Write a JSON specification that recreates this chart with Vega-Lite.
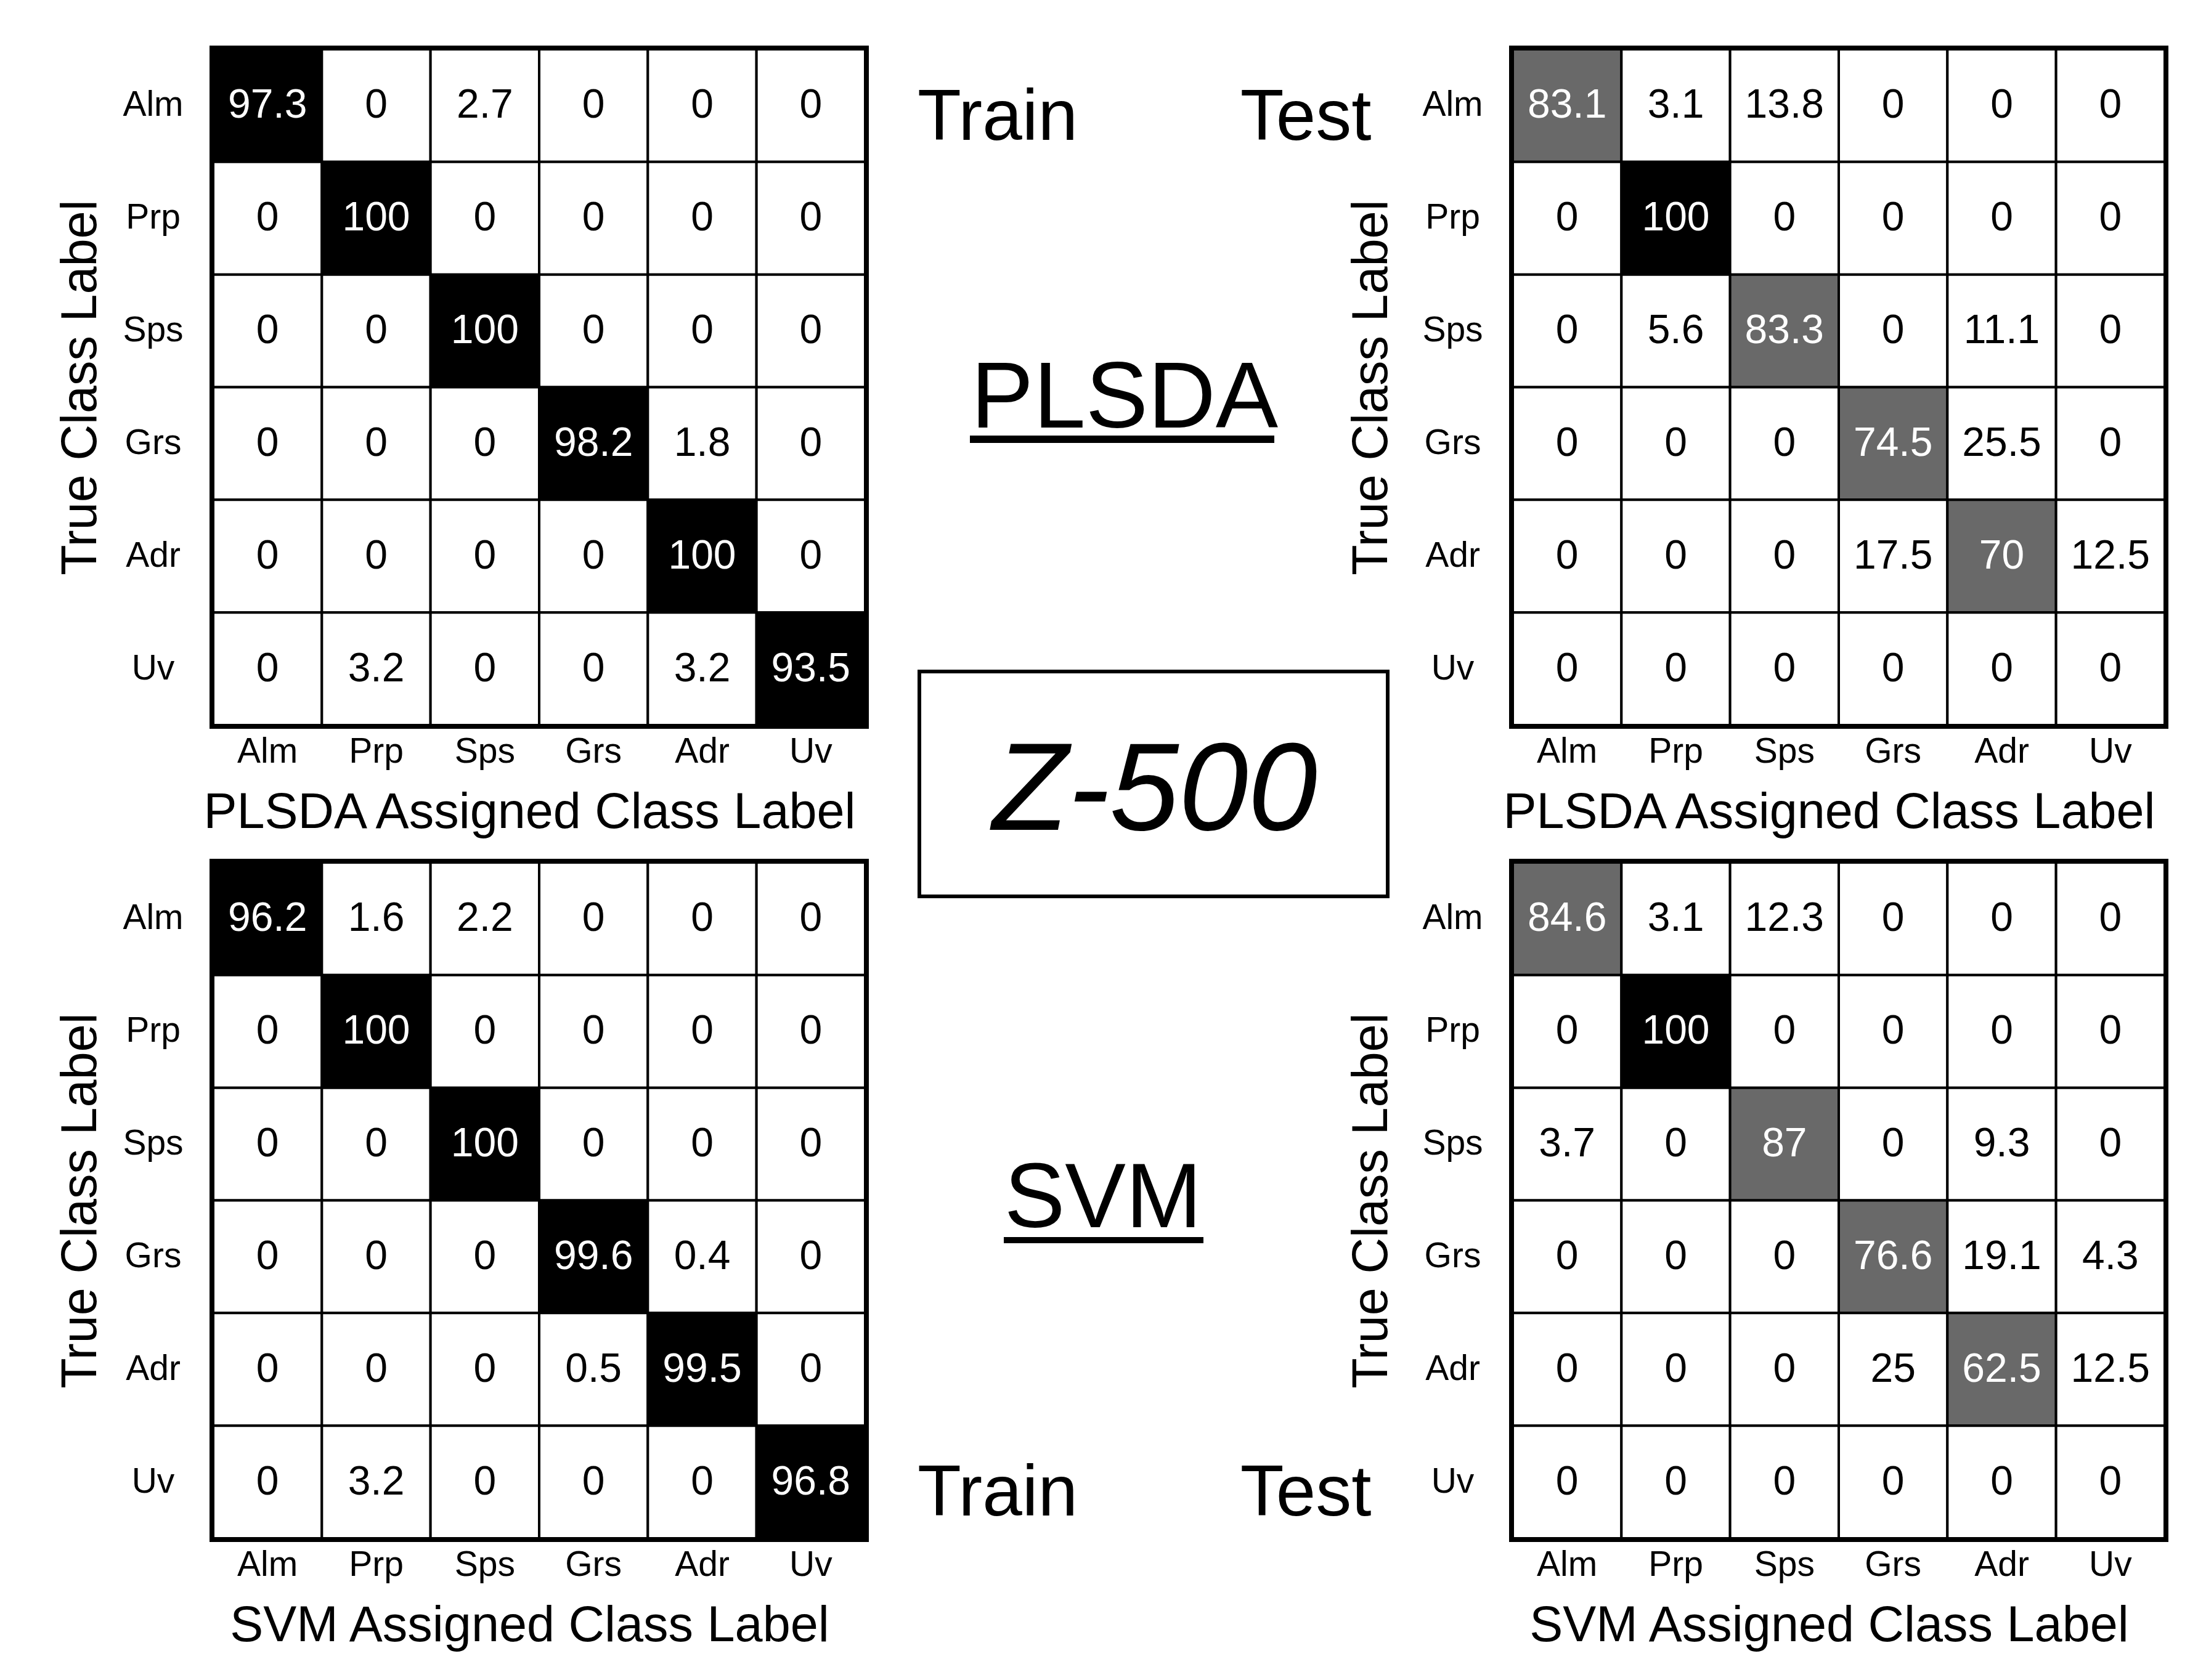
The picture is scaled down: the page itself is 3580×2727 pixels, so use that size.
{
  "$schema": "https://vega.github.io/schema/vega-lite/v6.json",
  "background": "white",
  "padding": {"left": 84, "top": 72, "right": 60, "bottom": 30},
  "config": {
    "font": "Liberation Sans",
    "axis": {"domain": false, "ticks": false, "grid": false, "labelFontSize": 57, "labelColor": "black", "titleFontSize": 81, "titleFontWeight": "normal", "titleColor": "black", "labelAngle": 0, "labelFont": "Liberation Sans", "titleFont": "Liberation Sans"},
    "axisX": {"labelPadding": 15, "titlePadding": 31, "titleX": 513},
    "axisY": {"labelAlign": "center", "labelBaseline": "middle", "labelPadding": 98, "titlePadding": 26}
  },
  "datasets": {
    "cm": [
      {"panel": "PLSDA Train", "true": "Alm", "assigned": "Alm", "value": 97.3},
      {"panel": "PLSDA Train", "true": "Alm", "assigned": "Prp", "value": 0},
      {"panel": "PLSDA Train", "true": "Alm", "assigned": "Sps", "value": 2.7},
      {"panel": "PLSDA Train", "true": "Alm", "assigned": "Grs", "value": 0},
      {"panel": "PLSDA Train", "true": "Alm", "assigned": "Adr", "value": 0},
      {"panel": "PLSDA Train", "true": "Alm", "assigned": "Uv", "value": 0},
      {"panel": "PLSDA Train", "true": "Prp", "assigned": "Alm", "value": 0},
      {"panel": "PLSDA Train", "true": "Prp", "assigned": "Prp", "value": 100},
      {"panel": "PLSDA Train", "true": "Prp", "assigned": "Sps", "value": 0},
      {"panel": "PLSDA Train", "true": "Prp", "assigned": "Grs", "value": 0},
      {"panel": "PLSDA Train", "true": "Prp", "assigned": "Adr", "value": 0},
      {"panel": "PLSDA Train", "true": "Prp", "assigned": "Uv", "value": 0},
      {"panel": "PLSDA Train", "true": "Sps", "assigned": "Alm", "value": 0},
      {"panel": "PLSDA Train", "true": "Sps", "assigned": "Prp", "value": 0},
      {"panel": "PLSDA Train", "true": "Sps", "assigned": "Sps", "value": 100},
      {"panel": "PLSDA Train", "true": "Sps", "assigned": "Grs", "value": 0},
      {"panel": "PLSDA Train", "true": "Sps", "assigned": "Adr", "value": 0},
      {"panel": "PLSDA Train", "true": "Sps", "assigned": "Uv", "value": 0},
      {"panel": "PLSDA Train", "true": "Grs", "assigned": "Alm", "value": 0},
      {"panel": "PLSDA Train", "true": "Grs", "assigned": "Prp", "value": 0},
      {"panel": "PLSDA Train", "true": "Grs", "assigned": "Sps", "value": 0},
      {"panel": "PLSDA Train", "true": "Grs", "assigned": "Grs", "value": 98.2},
      {"panel": "PLSDA Train", "true": "Grs", "assigned": "Adr", "value": 1.8},
      {"panel": "PLSDA Train", "true": "Grs", "assigned": "Uv", "value": 0},
      {"panel": "PLSDA Train", "true": "Adr", "assigned": "Alm", "value": 0},
      {"panel": "PLSDA Train", "true": "Adr", "assigned": "Prp", "value": 0},
      {"panel": "PLSDA Train", "true": "Adr", "assigned": "Sps", "value": 0},
      {"panel": "PLSDA Train", "true": "Adr", "assigned": "Grs", "value": 0},
      {"panel": "PLSDA Train", "true": "Adr", "assigned": "Adr", "value": 100},
      {"panel": "PLSDA Train", "true": "Adr", "assigned": "Uv", "value": 0},
      {"panel": "PLSDA Train", "true": "Uv", "assigned": "Alm", "value": 0},
      {"panel": "PLSDA Train", "true": "Uv", "assigned": "Prp", "value": 3.2},
      {"panel": "PLSDA Train", "true": "Uv", "assigned": "Sps", "value": 0},
      {"panel": "PLSDA Train", "true": "Uv", "assigned": "Grs", "value": 0},
      {"panel": "PLSDA Train", "true": "Uv", "assigned": "Adr", "value": 3.2},
      {"panel": "PLSDA Train", "true": "Uv", "assigned": "Uv", "value": 93.5},

      {"panel": "PLSDA Test", "true": "Alm", "assigned": "Alm", "value": 83.1},
      {"panel": "PLSDA Test", "true": "Alm", "assigned": "Prp", "value": 3.1},
      {"panel": "PLSDA Test", "true": "Alm", "assigned": "Sps", "value": 13.8},
      {"panel": "PLSDA Test", "true": "Alm", "assigned": "Grs", "value": 0},
      {"panel": "PLSDA Test", "true": "Alm", "assigned": "Adr", "value": 0},
      {"panel": "PLSDA Test", "true": "Alm", "assigned": "Uv", "value": 0},
      {"panel": "PLSDA Test", "true": "Prp", "assigned": "Alm", "value": 0},
      {"panel": "PLSDA Test", "true": "Prp", "assigned": "Prp", "value": 100},
      {"panel": "PLSDA Test", "true": "Prp", "assigned": "Sps", "value": 0},
      {"panel": "PLSDA Test", "true": "Prp", "assigned": "Grs", "value": 0},
      {"panel": "PLSDA Test", "true": "Prp", "assigned": "Adr", "value": 0},
      {"panel": "PLSDA Test", "true": "Prp", "assigned": "Uv", "value": 0},
      {"panel": "PLSDA Test", "true": "Sps", "assigned": "Alm", "value": 0},
      {"panel": "PLSDA Test", "true": "Sps", "assigned": "Prp", "value": 5.6},
      {"panel": "PLSDA Test", "true": "Sps", "assigned": "Sps", "value": 83.3},
      {"panel": "PLSDA Test", "true": "Sps", "assigned": "Grs", "value": 0},
      {"panel": "PLSDA Test", "true": "Sps", "assigned": "Adr", "value": 11.1},
      {"panel": "PLSDA Test", "true": "Sps", "assigned": "Uv", "value": 0},
      {"panel": "PLSDA Test", "true": "Grs", "assigned": "Alm", "value": 0},
      {"panel": "PLSDA Test", "true": "Grs", "assigned": "Prp", "value": 0},
      {"panel": "PLSDA Test", "true": "Grs", "assigned": "Sps", "value": 0},
      {"panel": "PLSDA Test", "true": "Grs", "assigned": "Grs", "value": 74.5},
      {"panel": "PLSDA Test", "true": "Grs", "assigned": "Adr", "value": 25.5},
      {"panel": "PLSDA Test", "true": "Grs", "assigned": "Uv", "value": 0},
      {"panel": "PLSDA Test", "true": "Adr", "assigned": "Alm", "value": 0},
      {"panel": "PLSDA Test", "true": "Adr", "assigned": "Prp", "value": 0},
      {"panel": "PLSDA Test", "true": "Adr", "assigned": "Sps", "value": 0},
      {"panel": "PLSDA Test", "true": "Adr", "assigned": "Grs", "value": 17.5},
      {"panel": "PLSDA Test", "true": "Adr", "assigned": "Adr", "value": 70},
      {"panel": "PLSDA Test", "true": "Adr", "assigned": "Uv", "value": 12.5},
      {"panel": "PLSDA Test", "true": "Uv", "assigned": "Alm", "value": 0},
      {"panel": "PLSDA Test", "true": "Uv", "assigned": "Prp", "value": 0},
      {"panel": "PLSDA Test", "true": "Uv", "assigned": "Sps", "value": 0},
      {"panel": "PLSDA Test", "true": "Uv", "assigned": "Grs", "value": 0},
      {"panel": "PLSDA Test", "true": "Uv", "assigned": "Adr", "value": 0},
      {"panel": "PLSDA Test", "true": "Uv", "assigned": "Uv", "value": 0},

      {"panel": "SVM Train", "true": "Alm", "assigned": "Alm", "value": 96.2},
      {"panel": "SVM Train", "true": "Alm", "assigned": "Prp", "value": 1.6},
      {"panel": "SVM Train", "true": "Alm", "assigned": "Sps", "value": 2.2},
      {"panel": "SVM Train", "true": "Alm", "assigned": "Grs", "value": 0},
      {"panel": "SVM Train", "true": "Alm", "assigned": "Adr", "value": 0},
      {"panel": "SVM Train", "true": "Alm", "assigned": "Uv", "value": 0},
      {"panel": "SVM Train", "true": "Prp", "assigned": "Alm", "value": 0},
      {"panel": "SVM Train", "true": "Prp", "assigned": "Prp", "value": 100},
      {"panel": "SVM Train", "true": "Prp", "assigned": "Sps", "value": 0},
      {"panel": "SVM Train", "true": "Prp", "assigned": "Grs", "value": 0},
      {"panel": "SVM Train", "true": "Prp", "assigned": "Adr", "value": 0},
      {"panel": "SVM Train", "true": "Prp", "assigned": "Uv", "value": 0},
      {"panel": "SVM Train", "true": "Sps", "assigned": "Alm", "value": 0},
      {"panel": "SVM Train", "true": "Sps", "assigned": "Prp", "value": 0},
      {"panel": "SVM Train", "true": "Sps", "assigned": "Sps", "value": 100},
      {"panel": "SVM Train", "true": "Sps", "assigned": "Grs", "value": 0},
      {"panel": "SVM Train", "true": "Sps", "assigned": "Adr", "value": 0},
      {"panel": "SVM Train", "true": "Sps", "assigned": "Uv", "value": 0},
      {"panel": "SVM Train", "true": "Grs", "assigned": "Alm", "value": 0},
      {"panel": "SVM Train", "true": "Grs", "assigned": "Prp", "value": 0},
      {"panel": "SVM Train", "true": "Grs", "assigned": "Sps", "value": 0},
      {"panel": "SVM Train", "true": "Grs", "assigned": "Grs", "value": 99.6},
      {"panel": "SVM Train", "true": "Grs", "assigned": "Adr", "value": 0.4},
      {"panel": "SVM Train", "true": "Grs", "assigned": "Uv", "value": 0},
      {"panel": "SVM Train", "true": "Adr", "assigned": "Alm", "value": 0},
      {"panel": "SVM Train", "true": "Adr", "assigned": "Prp", "value": 0},
      {"panel": "SVM Train", "true": "Adr", "assigned": "Sps", "value": 0},
      {"panel": "SVM Train", "true": "Adr", "assigned": "Grs", "value": 0.5},
      {"panel": "SVM Train", "true": "Adr", "assigned": "Adr", "value": 99.5},
      {"panel": "SVM Train", "true": "Adr", "assigned": "Uv", "value": 0},
      {"panel": "SVM Train", "true": "Uv", "assigned": "Alm", "value": 0},
      {"panel": "SVM Train", "true": "Uv", "assigned": "Prp", "value": 3.2},
      {"panel": "SVM Train", "true": "Uv", "assigned": "Sps", "value": 0},
      {"panel": "SVM Train", "true": "Uv", "assigned": "Grs", "value": 0},
      {"panel": "SVM Train", "true": "Uv", "assigned": "Adr", "value": 0},
      {"panel": "SVM Train", "true": "Uv", "assigned": "Uv", "value": 96.8},

      {"panel": "SVM Test", "true": "Alm", "assigned": "Alm", "value": 84.6},
      {"panel": "SVM Test", "true": "Alm", "assigned": "Prp", "value": 3.1},
      {"panel": "SVM Test", "true": "Alm", "assigned": "Sps", "value": 12.3},
      {"panel": "SVM Test", "true": "Alm", "assigned": "Grs", "value": 0},
      {"panel": "SVM Test", "true": "Alm", "assigned": "Adr", "value": 0},
      {"panel": "SVM Test", "true": "Alm", "assigned": "Uv", "value": 0},
      {"panel": "SVM Test", "true": "Prp", "assigned": "Alm", "value": 0},
      {"panel": "SVM Test", "true": "Prp", "assigned": "Prp", "value": 100},
      {"panel": "SVM Test", "true": "Prp", "assigned": "Sps", "value": 0},
      {"panel": "SVM Test", "true": "Prp", "assigned": "Grs", "value": 0},
      {"panel": "SVM Test", "true": "Prp", "assigned": "Adr", "value": 0},
      {"panel": "SVM Test", "true": "Prp", "assigned": "Uv", "value": 0},
      {"panel": "SVM Test", "true": "Sps", "assigned": "Alm", "value": 3.7},
      {"panel": "SVM Test", "true": "Sps", "assigned": "Prp", "value": 0},
      {"panel": "SVM Test", "true": "Sps", "assigned": "Sps", "value": 87},
      {"panel": "SVM Test", "true": "Sps", "assigned": "Grs", "value": 0},
      {"panel": "SVM Test", "true": "Sps", "assigned": "Adr", "value": 9.3},
      {"panel": "SVM Test", "true": "Sps", "assigned": "Uv", "value": 0},
      {"panel": "SVM Test", "true": "Grs", "assigned": "Alm", "value": 0},
      {"panel": "SVM Test", "true": "Grs", "assigned": "Prp", "value": 0},
      {"panel": "SVM Test", "true": "Grs", "assigned": "Sps", "value": 0},
      {"panel": "SVM Test", "true": "Grs", "assigned": "Grs", "value": 76.6},
      {"panel": "SVM Test", "true": "Grs", "assigned": "Adr", "value": 19.1},
      {"panel": "SVM Test", "true": "Grs", "assigned": "Uv", "value": 4.3},
      {"panel": "SVM Test", "true": "Adr", "assigned": "Alm", "value": 0},
      {"panel": "SVM Test", "true": "Adr", "assigned": "Prp", "value": 0},
      {"panel": "SVM Test", "true": "Adr", "assigned": "Sps", "value": 0},
      {"panel": "SVM Test", "true": "Adr", "assigned": "Grs", "value": 25},
      {"panel": "SVM Test", "true": "Adr", "assigned": "Adr", "value": 62.5},
      {"panel": "SVM Test", "true": "Adr", "assigned": "Uv", "value": 12.5},
      {"panel": "SVM Test", "true": "Uv", "assigned": "Alm", "value": 0},
      {"panel": "SVM Test", "true": "Uv", "assigned": "Prp", "value": 0},
      {"panel": "SVM Test", "true": "Uv", "assigned": "Sps", "value": 0},
      {"panel": "SVM Test", "true": "Uv", "assigned": "Grs", "value": 0},
      {"panel": "SVM Test", "true": "Uv", "assigned": "Adr", "value": 0},
      {"panel": "SVM Test", "true": "Uv", "assigned": "Uv", "value": 0}
    ]
  },
  "columns": 3,
  "align": "each",
  "bounds": "flush",
  "spacing": {"row": 223, "column": 0},
  "concat": [
    {
      "width": 1058, "height": 1097,
      "view": {"stroke": "black", "strokeWidth": 12},
      "data": {"name": "cm"},
      "transform": [{"filter": "datum.panel === 'PLSDA Train'"}],
      "encoding": {
        "x": {"field": "assigned", "type": "nominal", "sort": ["Alm", "Prp", "Sps", "Grs", "Adr", "Uv"], "scale": {"paddingInner": 0, "paddingOuter": 0}, "axis": {"title": "PLSDA Assigned Class Label"}},
        "y": {"field": "true", "type": "nominal", "sort": ["Alm", "Prp", "Sps", "Grs", "Adr", "Uv"], "scale": {"paddingInner": 0, "paddingOuter": 0}, "axis": {"title": "True Class Label"}}
      },
      "layer": [
        {"mark": {"type": "rect", "stroke": "black", "strokeWidth": 4}, "encoding": {"fill": {"field": "value", "type": "quantitative", "scale": {"type": "threshold", "domain": [50, 90], "range": ["white", "#696969", "black"]}, "legend": null}}},
        {"mark": {"type": "text", "fontSize": 66, "font": "Liberation Sans"}, "encoding": {"text": {"field": "value", "type": "nominal"}, "color": {"condition": {"test": "datum.value >= 50", "value": "white"}, "value": "black"}}}
      ]
    },
    {
      "width": 1051, "height": 1097,
      "view": {"stroke": null},
      "layer": [
        {"data": {"values": [{"label": "Train"}]}, "mark": {"type": "text", "fontSize": 116, "font": "Liberation Sans", "color": "black"}, "encoding": {"x": {"datum": 215, "type": "quantitative", "scale": {"domain": [0, 1051], "nice": false, "zero": false}, "axis": null}, "y": {"datum": 112, "type": "quantitative", "scale": {"domain": [0, 1097], "nice": false, "zero": false, "reverse": true}, "axis": null}, "text": {"field": "label"}}},
        {"data": {"values": [{"label": "Test"}]}, "mark": {"type": "text", "fontSize": 116, "font": "Liberation Sans", "color": "black"}, "encoding": {"x": {"datum": 715, "type": "quantitative"}, "y": {"datum": 112, "type": "quantitative"}, "text": {"field": "label"}}},
        {"data": {"values": [{"label": "PLSDA"}]}, "mark": {"type": "text", "fontSize": 152, "font": "Liberation Sans", "color": "black"}, "encoding": {"x": {"datum": 421, "type": "quantitative"}, "y": {"datum": 568, "type": "quantitative"}, "text": {"field": "label"}}},
        {"data": {"values": [{"label": "PLSDA"}]}, "mark": {"type": "rule", "strokeWidth": 12, "color": "black"}, "encoding": {"x": {"datum": 170, "type": "quantitative"}, "x2": {"datum": 664}, "y": {"datum": 633, "type": "quantitative"}}},
        {"data": {"values": [{"label": "Z-500"}]}, "mark": {"type": "rect", "filled": false, "stroke": "black", "strokeWidth": 6}, "encoding": {"x": {"datum": 88, "type": "quantitative"}, "x2": {"datum": 848}, "y": {"datum": 1010, "type": "quantitative"}, "y2": {"datum": 1375}}},
        {"data": {"values": [{"label": "Z-500"}]}, "mark": {"type": "text", "fontSize": 202, "fontStyle": "italic", "font": "Liberation Sans", "color": "black"}, "encoding": {"x": {"datum": 470, "type": "quantitative"}, "y": {"datum": 1206, "type": "quantitative"}, "text": {"field": "label"}}}
      ]
    },
    {
      "width": 1058, "height": 1097,
      "view": {"stroke": "black", "strokeWidth": 12},
      "data": {"name": "cm"},
      "transform": [{"filter": "datum.panel === 'PLSDA Test'"}],
      "encoding": {
        "x": {"field": "assigned", "type": "nominal", "sort": ["Alm", "Prp", "Sps", "Grs", "Adr", "Uv"], "scale": {"paddingInner": 0, "paddingOuter": 0}, "axis": {"title": "PLSDA Assigned Class Label"}},
        "y": {"field": "true", "type": "nominal", "sort": ["Alm", "Prp", "Sps", "Grs", "Adr", "Uv"], "scale": {"paddingInner": 0, "paddingOuter": 0}, "axis": {"title": "True Class Label", "titlePadding": 40}}
      },
      "layer": [
        {"mark": {"type": "rect", "stroke": "black", "strokeWidth": 4}, "encoding": {"fill": {"field": "value", "type": "quantitative", "scale": {"type": "threshold", "domain": [50, 90], "range": ["white", "#696969", "black"]}, "legend": null}}},
        {"mark": {"type": "text", "fontSize": 66, "font": "Liberation Sans"}, "encoding": {"text": {"field": "value", "type": "nominal"}, "color": {"condition": {"test": "datum.value >= 50", "value": "white"}, "value": "black"}}}
      ]
    },
    {
      "width": 1058, "height": 1097,
      "view": {"stroke": "black", "strokeWidth": 12},
      "data": {"name": "cm"},
      "transform": [{"filter": "datum.panel === 'SVM Train'"}],
      "encoding": {
        "x": {"field": "assigned", "type": "nominal", "sort": ["Alm", "Prp", "Sps", "Grs", "Adr", "Uv"], "scale": {"paddingInner": 0, "paddingOuter": 0}, "axis": {"title": "SVM Assigned Class Label"}},
        "y": {"field": "true", "type": "nominal", "sort": ["Alm", "Prp", "Sps", "Grs", "Adr", "Uv"], "scale": {"paddingInner": 0, "paddingOuter": 0}, "axis": {"title": "True Class Label"}}
      },
      "layer": [
        {"mark": {"type": "rect", "stroke": "black", "strokeWidth": 4}, "encoding": {"fill": {"field": "value", "type": "quantitative", "scale": {"type": "threshold", "domain": [50, 90], "range": ["white", "#696969", "black"]}, "legend": null}}},
        {"mark": {"type": "text", "fontSize": 66, "font": "Liberation Sans"}, "encoding": {"text": {"field": "value", "type": "nominal"}, "color": {"condition": {"test": "datum.value >= 50", "value": "white"}, "value": "black"}}}
      ]
    },
    {
      "width": 1051, "height": 1097,
      "view": {"stroke": null},
      "layer": [
        {"data": {"values": [{"label": "SVM"}]}, "mark": {"type": "text", "fontSize": 148, "font": "Liberation Sans", "color": "black"}, "encoding": {"x": {"datum": 386, "type": "quantitative", "scale": {"domain": [0, 1051], "nice": false, "zero": false}, "axis": null}, "y": {"datum": 548, "type": "quantitative", "scale": {"domain": [0, 1097], "nice": false, "zero": false, "reverse": true}, "axis": null}, "text": {"field": "label"}}},
        {"data": {"values": [{"label": "SVM"}]}, "mark": {"type": "rule", "strokeWidth": 10, "color": "black"}, "encoding": {"x": {"datum": 225, "type": "quantitative"}, "x2": {"datum": 549}, "y": {"datum": 613, "type": "quantitative"}}},
        {"data": {"values": [{"label": "Train"}]}, "mark": {"type": "text", "fontSize": 116, "font": "Liberation Sans", "color": "black"}, "encoding": {"x": {"datum": 215, "type": "quantitative"}, "y": {"datum": 1025, "type": "quantitative"}, "text": {"field": "label"}}},
        {"data": {"values": [{"label": "Test"}]}, "mark": {"type": "text", "fontSize": 116, "font": "Liberation Sans", "color": "black"}, "encoding": {"x": {"datum": 715, "type": "quantitative"}, "y": {"datum": 1025, "type": "quantitative"}, "text": {"field": "label"}}}
      ]
    },
    {
      "width": 1058, "height": 1097,
      "view": {"stroke": "black", "strokeWidth": 12},
      "data": {"name": "cm"},
      "transform": [{"filter": "datum.panel === 'SVM Test'"}],
      "encoding": {
        "x": {"field": "assigned", "type": "nominal", "sort": ["Alm", "Prp", "Sps", "Grs", "Adr", "Uv"], "scale": {"paddingInner": 0, "paddingOuter": 0}, "axis": {"title": "SVM Assigned Class Label"}},
        "y": {"field": "true", "type": "nominal", "sort": ["Alm", "Prp", "Sps", "Grs", "Adr", "Uv"], "scale": {"paddingInner": 0, "paddingOuter": 0}, "axis": {"title": "True Class Label", "titlePadding": 40}}
      },
      "layer": [
        {"mark": {"type": "rect", "stroke": "black", "strokeWidth": 4}, "encoding": {"fill": {"field": "value", "type": "quantitative", "scale": {"type": "threshold", "domain": [50, 90], "range": ["white", "#696969", "black"]}, "legend": null}}},
        {"mark": {"type": "text", "fontSize": 66, "font": "Liberation Sans"}, "encoding": {"text": {"field": "value", "type": "nominal"}, "color": {"condition": {"test": "datum.value >= 50", "value": "white"}, "value": "black"}}}
      ]
    }
  ]
}
